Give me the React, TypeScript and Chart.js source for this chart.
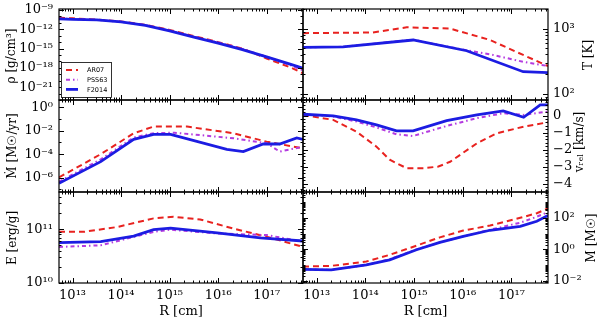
import React, { useEffect, useRef } from "react";
import { Chart, registerables } from "chart.js";

Chart.register(...registerables);

// ---------------- data ----------------
const SERIES = ["AR07", "PSS63", "F2014"];

// x axis: R [cm]; series x positions are given as log10(R)
const X_RANGE = [5.25e12, 5.62e17];
const X_TICKS = [1e13, 1e14, 1e15, 1e16, 1e17];
const X_TICK_LABELS = ["10¹³", "10¹⁴", "10¹⁵", "10¹⁶", "10¹⁷"];

// density rho [g/cm^3], values as log10
const RHO_X = [12.72, 13.0, 13.5, 14.0, 14.5, 15.0, 15.5, 16.0, 16.5, 17.0, 17.5, 17.75];
const RHO_AR07 = [-10.2, -10.3, -10.5, -10.8, -11.3, -12.1, -13.05, -14.0, -15.0, -16.55, -17.95, -18.85];
const RHO_PSS63 = [-10.35, -10.4, -10.55, -10.85, -11.35, -12.2, -13.15, -14.05, -15.05, -16.3, -17.6, -18.4];
const RHO_F2014 = [-10.4, -10.45, -10.55, -10.86, -11.41, -12.26, -13.24, -14.15, -15.16, -16.3, -17.45, -18.05];
const RHO_RANGE = [1e-23, 1.41e-9];
const RHO_TICKS = [1e-21, 1e-18, 1e-15, 1e-12, 1e-9];
const RHO_TICK_LABELS = ["10⁻²¹", "10⁻¹⁸", "10⁻¹⁵", "10⁻¹²", "10⁻⁹"];

// temperature T [K], values as log10
const T_AR07_X = [12.72, 14.15, 14.85, 15.74, 16.56, 17.24, 17.75];
const T_AR07 = [2.93, 2.94, 3.02, 3.0, 2.825, 2.595, 2.425];
const T_PSS63_X = [12.72, 13.54, 14.98, 15.7, 16.56, 17.24, 17.75];
const T_PSS63 = [2.713, 2.72, 2.83, 2.72, 2.605, 2.49, 2.425];
const T_F2014_X = [12.72, 13.54, 14.98, 16.08, 17.24, 17.75];
const T_F2014 = [2.713, 2.72, 2.825, 2.66, 2.338, 2.323];
const T_RANGE = [80, 2000];
const T_TICKS = [100, 1000];
const T_TICK_LABELS = ["10²", "10³"];

// mass-loss rate Mdot [Msun/yr], values as log10
const MDOT_AR07_X = [12.72, 13.0, 13.58, 14.26, 14.67, 15.36, 16.32, 17.0, 17.75];
const MDOT_AR07 = [-5.98, -5.35, -4.0, -2.21, -1.64, -1.64, -2.21, -2.93, -3.5];
const MDOT_PSS63_X = [12.72, 13.58, 14.26, 14.67, 15.1, 16.32, 17.0, 17.27, 17.75];
const MDOT_PSS63 = [-6.36, -4.45, -2.57, -2.2, -2.16, -2.64, -3.06, -3.78, -3.36];
const MDOT_F2014_X = [12.72, 13.58, 14.26, 14.67, 15.02, 16.18, 16.52, 16.93, 17.27, 17.62, 17.75];
const MDOT_F2014 = [-6.5, -4.64, -2.73, -2.3, -2.3, -3.58, -3.78, -3.13, -3.13, -2.61, -2.73];
const MDOT_RANGE = [5.75e-8, 4.37];
const MDOT_TICKS = [1e-6, 1e-4, 1e-2, 1];
const MDOT_TICK_LABELS = ["10⁻⁶", "10⁻⁴", "10⁻²", "10⁰"];

// relative velocity v_rel [km/s], linear values
const V_AR07_X = [12.72, 13.34, 13.82, 14.23, 14.5, 14.85, 15.2, 15.5, 15.74, 16.29, 16.7, 17.25, 17.75];
const V_AR07 = [0.04, -0.25, -0.95, -1.83, -2.6, -3.1, -3.1, -3.0, -2.72, -1.63, -1.04, -0.65, -0.39];
const V_PSS63_X = [12.72, 13.34, 13.82, 14.23, 14.64, 14.98, 15.67, 16.29, 16.83, 17.25, 17.75];
const V_PSS63 = [0.08, -0.05, -0.35, -0.7, -1.1, -1.2, -0.61, -0.15, 0.14, 0.04, 0.24];
const V_F2014_X = [12.72, 13.34, 13.82, 14.23, 14.64, 14.98, 15.67, 16.29, 16.83, 17.25, 17.59, 17.75];
const V_F2014 = [0.08, -0.02, -0.25, -0.55, -0.9, -0.9, -0.29, 0.04, 0.28, -0.1, 0.63, 0.63];
const V_RANGE = [-4.5, 0.92];
const V_TICKS = [-4, -3, -2, -1, 0];
const V_TICK_LABELS = ["−4", "−3", "−2", "−1", "0"];

// specific energy E [erg/g], values as log10
const E_AR07_X = [12.72, 13.23, 13.92, 14.67, 15.08, 15.63, 16.32, 17.0, 17.75];
const E_AR07 = [10.95, 10.95, 11.04, 11.2, 11.23, 11.18, 11.01, 10.86, 10.67];
const E_PSS63_X = [12.72, 13.58, 14.67, 15.02, 15.98, 17.0, 17.75];
const E_PSS63 = [10.67, 10.7, 10.95, 10.99, 10.92, 10.89, 10.77];
const E_F2014_X = [12.72, 13.58, 14.26, 14.67, 15.02, 15.98, 16.87, 17.75];
const E_F2014 = [10.75, 10.77, 10.87, 10.99, 11.02, 10.93, 10.84, 10.78];
const E_RANGE = [1e10, 4.9e11];
const E_TICKS = [1e10, 1e11];
const E_TICK_LABELS = ["10¹⁰", "10¹¹"];

// enclosed mass M [Msun], values as log10
const M_X = [12.72, 13.3, 14.02, 14.5, 15.05, 15.53, 16.01, 16.56, 17.18, 17.52, 17.75];
const M_AR07 = [-1.09, -1.04, -0.77, -0.34, 0.24, 0.77, 1.2, 1.52, 2.01, 2.3, 2.61];
const M_PSS63 = [-1.26, -1.3, -0.98, -0.62, 0.0, 0.45, 0.83, 1.25, 1.7, 2.08, 2.37];
const M_F2014 = [-1.26, -1.3, -0.98, -0.66, -0.02, 0.45, 0.83, 1.22, 1.47, 1.79, 2.16];
const M_RANGE = [7.4e-3, 4470];
const M_TICKS = [1e-2, 1, 100];
const M_TICK_LABELS = ["10⁻²", "10⁰", "10²"];

// ---------------- styles / layout ----------------
const W = 600;
const H = 322;
const COL_X = [
  [59, 303],
  [303, 548],
];
const ROW_Y = [
  [9, 100],
  [100, 192],
  [192, 283],
];
const COLORS = ["#e8221f", "#b43be0", "#1c1ce2"];
const DASHES = [[6, 4], [4, 3, 1.5, 3], []];
const WIDTHS = [2, 2, 2.8];
const TICK_FONT = { family: "DejaVu Serif", size: 13 };
const TITLE_FONT = '12px "DejaVu Serif"';
const LEGEND_FONT = '6.5px "DejaVu Sans"';

type Panel = {
  row: number;
  col: number;
  log: boolean;
  range: number[];
  ticks: number[];
  labels: string[];
  xs: number[][];
  ys: number[][];
  title: string;
  titlePos: number[];
  legend?: boolean;
};

const PANELS: Panel[] = [
  {
    row: 0, col: 0, log: true, range: RHO_RANGE, ticks: RHO_TICKS, labels: RHO_TICK_LABELS,
    xs: [RHO_X, RHO_X, RHO_X], ys: [RHO_AR07, RHO_PSS63, RHO_F2014],
    title: "ρ [g/cm³]", titlePos: [12, 56], legend: true,
  },
  {
    row: 0, col: 1, log: true, range: T_RANGE, ticks: T_TICKS, labels: T_TICK_LABELS,
    xs: [T_AR07_X, T_PSS63_X, T_F2014_X], ys: [T_AR07, T_PSS63, T_F2014],
    title: "T [K]", titlePos: [589, 55],
  },
  {
    row: 1, col: 0, log: true, range: MDOT_RANGE, ticks: MDOT_TICKS, labels: MDOT_TICK_LABELS,
    xs: [MDOT_AR07_X, MDOT_PSS63_X, MDOT_F2014_X], ys: [MDOT_AR07, MDOT_PSS63, MDOT_F2014],
    title: "M\u0307 [M☉/yr]", titlePos: [13, 146],
  },
  {
    row: 1, col: 1, log: false, range: V_RANGE, ticks: V_TICKS, labels: V_TICK_LABELS,
    xs: [V_AR07_X, V_PSS63_X, V_F2014_X], ys: [V_AR07, V_PSS63, V_F2014],
    title: "vᵣₑₗ [km/s]", titlePos: [580, 142],
  },
  {
    row: 2, col: 0, log: true, range: E_RANGE, ticks: E_TICKS, labels: E_TICK_LABELS,
    xs: [E_AR07_X, E_PSS63_X, E_F2014_X], ys: [E_AR07, E_PSS63, E_F2014],
    title: "E [erg/g]", titlePos: [12.5, 238],
  },
  {
    row: 2, col: 1, log: true, range: M_RANGE, ticks: M_TICKS, labels: M_TICK_LABELS,
    xs: [M_X, M_X, M_X], ys: [M_AR07, M_PSS63, M_F2014],
    title: "M [M☉]", titlePos: [592, 238],
  },
];

function decorPlugin(p: Panel) {
  return {
    id: "decor",
    afterDatasetsDraw(chart: any) {
      const ctx: CanvasRenderingContext2D = chart.ctx;
      const a = chart.chartArea;
      const xs = chart.scales.x;
      const ys = chart.scales.y;
      ctx.save();
      ctx.strokeStyle = "#000";
      ctx.lineWidth = 1;
      const seg = (x1: number, y1: number, x2: number, y2: number) => {
        ctx.beginPath();
        ctx.moveTo(x1, y1);
        ctx.lineTo(x2, y2);
        ctx.stroke();
      };
      // x ticks (inward, top and bottom)
      for (let d = 12; d <= 18; d++) {
        for (let m = 1; m <= 9; m++) {
          const v = m * Math.pow(10, d);
          if (v < xs.min || v > xs.max) continue;
          const px = Math.round(xs.getPixelForValue(v)) + 0.5;
          const len = m === 1 ? 5 : 2.5;
          seg(px, a.bottom, px, a.bottom - len);
          seg(px, a.top, px, a.top + len);
        }
      }
      // y ticks (inward, left and right)
      const yt: { v: number; major: boolean }[] = [];
      if (p.log) {
        const lo = Math.floor(Math.log10(ys.min));
        const hi = Math.ceil(Math.log10(ys.max));
        const dense = hi - lo <= 7;
        for (let d = lo; d <= hi; d++) {
          for (let m = 1; m <= (dense ? 9 : 1); m++) {
            const v = m * Math.pow(10, d);
            if (v < ys.min || v > ys.max) continue;
            const major = p.ticks.some((t) => Math.abs(Math.log10(t) - Math.log10(v)) < 1e-6);
            yt.push({ v, major });
          }
        }
      } else {
        for (let k = Math.ceil(ys.min * 5); k <= Math.floor(ys.max * 5); k++) {
          yt.push({ v: k / 5, major: k % 5 === 0 });
        }
      }
      yt.forEach(({ v, major }) => {
        const py = Math.round(ys.getPixelForValue(v)) + 0.5;
        const len = major ? 5 : 2.5;
        seg(a.left, py, a.left + len, py);
        seg(a.right, py, a.right - len, py);
      });
      // frame
      ctx.lineWidth = 1.2;
      ctx.strokeRect(a.left, a.top, a.right - a.left, a.bottom - a.top);
      // y title, rotated, reading bottom-to-top
      ctx.fillStyle = "#000";
      ctx.font = TITLE_FONT;
      ctx.textAlign = "center";
      ctx.textBaseline = "middle";
      ctx.save();
      ctx.translate(p.titlePos[0], p.titlePos[1]);
      ctx.rotate(-Math.PI / 2);
      ctx.fillText(p.title, 0, 0);
      ctx.restore();
      // x title for bottom row
      if (p.row === 2) {
        ctx.font = '13px "DejaVu Serif"';
        ctx.fillText("R [cm]", (a.left + a.right) / 2, 312);
      }
      // legend
      if (p.legend) {
        const bx = 61, by = 62, bw = 50, bh = 35;
        ctx.fillStyle = "#fff";
        ctx.fillRect(bx, by, bw, bh);
        ctx.strokeStyle = "#000";
        ctx.lineWidth = 0.8;
        ctx.strokeRect(bx + 0.5, by + 0.5, bw, bh);
        SERIES.forEach((name, i) => {
          const ly = 70 + i * 9.7;
          ctx.strokeStyle = COLORS[i];
          ctx.lineWidth = WIDTHS[i];
          ctx.setLineDash(DASHES[i]);
          seg(66, ly, 78, ly);
          ctx.setLineDash([]);
          ctx.fillStyle = "#000";
          ctx.font = LEGEND_FONT;
          ctx.textAlign = "left";
          ctx.fillText(name, 87, ly + 0.5);
        });
      }
      ctx.restore();
    },
  };
}

function buildChart(canvas: HTMLCanvasElement, p: Panel) {
  const [cl, cr] = COL_X[p.col];
  const [rt, rb] = ROW_Y[p.row];
  const isRight = p.col === 1;
  const isBottom = p.row === 2;
  const xAxisH = isBottom ? H - rb : 0;
  const datasets = SERIES.map((name, i) => ({
    label: name,
    data: p.xs[i].map((e, k) => ({
      x: Math.pow(10, e),
      y: p.log ? Math.pow(10, p.ys[i][k]) : p.ys[i][k],
    })),
    borderColor: COLORS[i],
    borderWidth: WIDTHS[i],
    borderDash: DASHES[i],
    pointRadius: 0,
    tension: 0,
    fill: false,
    order: 2 - i,
  }));
  return new Chart(canvas, {
    type: "line",
    data: { datasets },
    options: {
      animation: false,
      responsive: false,
      devicePixelRatio: 1,
      layout: {
        padding: {
          left: isRight ? cl : 0,
          right: isRight ? 0 : W - cr,
          top: rt,
          bottom: isBottom ? 0 : H - rb,
        },
      },
      plugins: { legend: { display: false }, tooltip: { enabled: false } },
      scales: {
        x: {
          type: "logarithmic",
          min: X_RANGE[0],
          max: X_RANGE[1],
          grid: { display: false, drawTicks: false },
          border: { display: false },
          afterBuildTicks: (s: any) => {
            s.ticks = X_TICKS.map((v) => ({ value: v }));
          },
          afterFit: (s: any) => {
            s.height = xAxisH;
            s.paddingLeft = 0;
            s.paddingRight = 0;
          },
          ticks: {
            display: isBottom,
            autoSkip: false,
            maxRotation: 0,
            padding: 5,
            color: "#000",
            font: TICK_FONT,
            callback: (_v: any, i: number) => X_TICK_LABELS[i],
          },
        },
        y: {
          type: p.log ? "logarithmic" : "linear",
          position: isRight ? "right" : "left",
          min: p.range[0],
          max: p.range[1],
          grid: { display: false, drawTicks: false },
          border: { display: false },
          afterBuildTicks: (s: any) => {
            s.ticks = p.ticks.map((v) => ({ value: v }));
          },
          afterFit: (s: any) => {
            s.width = isRight ? W - cr : cl;
            s.paddingTop = 0;
            s.paddingBottom = 0;
          },
          ticks: {
            autoSkip: false,
            padding: isRight ? 5 : 6,
            color: "#000",
            font: TICK_FONT,
            callback: (_v: any, i: number) => p.labels[i],
          },
        },
      },
    } as any,
    plugins: [decorPlugin(p)],
  });
}

export default function App() {
  const refs = useRef<(HTMLCanvasElement | null)[]>([]);
  useEffect(() => {
    const charts = PANELS.map((p, i) => buildChart(refs.current[i] as HTMLCanvasElement, p));
    return () => charts.forEach((c) => c.destroy());
  }, []);
  return (
    <div style={{ position: "fixed", left: 0, top: 0, width: W, height: H, background: "#fff" }}>
      {PANELS.map((_p, i) => (
        <canvas
          key={i}
          ref={(el) => {
            refs.current[i] = el;
          }}
          width={W}
          height={H}
          style={{ position: "absolute", left: 0, top: 0, width: W, height: H }}
        />
      ))}
    </div>
  );
}
